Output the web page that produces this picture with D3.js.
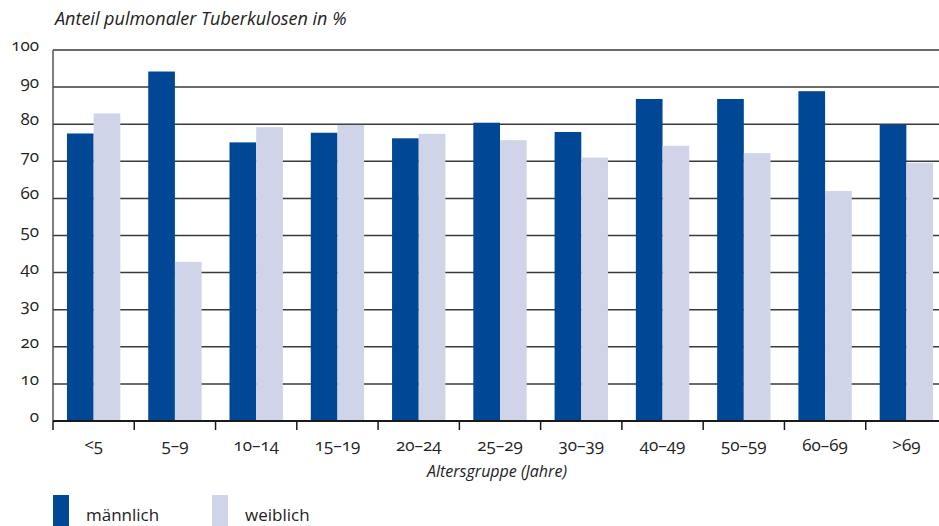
<!DOCTYPE html>
<html>
<head>
<meta charset="utf-8">
<script src="https://cdn.jsdelivr.net/npm/d3@7"></script>
<style>
    html, body { margin: 0; padding: 0; background: #fff; overflow: hidden; }
    svg { display: block; font-family: 'Open Sans', 'Noto Sans', sans-serif; font-variant-numeric: oldstyle-nums; }
    .title, .xTitle { font-style: italic; }
</style>
</head>
<body>
<div id="chart"></div>
<script>
'use strict';

// Age groups and share of pulmonary TB (%)
const ageGroups = ['<5', '5–9', '10–14', '15–19', '20–24', '25–29', '30–39', '40–49', '50–59', '60–69', '>69'];
const maleValues = [77.5, 94.2, 75.1, 77.7, 76.2, 80.4, 77.9, 86.8, 86.8, 88.9, 79.9];
const femaleValues = [82.9, 42.9, 79.2, 79.8, 77.4, 75.7, 71.0, 74.2, 72.2, 62.0, 69.6];
const yTicks = [0, 10, 20, 30, 40, 50, 60, 70, 80, 90, 100];
const seriesNames = ['männlich', 'weiblich'];

const colors = { 'männlich': '#004896', 'weiblich': '#cfd4e8' };

function main() {
    const width = 939;
    const height = 526;
    const plotLeft = 53;
    const plotRight = 947; // last group is cut by the picture edge
    const plotTop = 50;
    const plotBottom = 421;

    let svg = d3.select('#chart')
        .append('svg')
        .attr('width', width)
        .attr('height', height);

    let x0 = d3.scaleBand()
        .domain(ageGroups)
        .range([plotLeft, plotRight])
        .padding(0);

    let x1 = d3.scaleBand()
        .domain(seriesNames)
        .range([0, x0.bandwidth()])
        .paddingInner(0)
        .paddingOuter(0.523);

    let y = d3.scaleLinear()
        .domain([0, 100])
        .range([plotBottom, plotTop]);

    // Gridlines (behind bars)
    svg.append('g')
        .selectAll('line')
        .data(yTicks.filter(d => d > 0))
        .enter()
        .append('line')
        .attr('x1', plotLeft)
        .attr('x2', width)
        .attr('y1', d => y(d))
        .attr('y2', d => y(d))
        .attr('stroke', '#3a3a3a')
        .attr('stroke-width', 1.5);

    // Y axis labels
    svg.append('g')
        .selectAll('text')
        .data(yTicks)
        .enter()
        .append('text')
        .attr('x', 39)
        .attr('y', d => y(d) + 1)
        .attr('text-anchor', 'end')
        .attr('font-size', 17)
        .attr('fill', '#222')
        .text(d => d);

    // Bars
    let rows = ageGroups.map((g, i) => ({ group: g, values: [
        { key: 'männlich', value: maleValues[i] },
        { key: 'weiblich', value: femaleValues[i] }
    ] }));

    svg.append('g')
        .selectAll('g')
        .data(rows)
        .enter()
        .append('g')
        .attr('transform', d => `translate(${x0(d.group)},0)`)
        .selectAll('rect')
        .data(d => d.values)
        .enter()
        .append('rect')
        .attr('x', d => x1(d.key))
        .attr('width', x1.bandwidth())
        .attr('y', d => y(d.value))
        .attr('height', d => plotBottom - y(d.value))
        .attr('fill', d => colors[d.key]);

    // Y axis line
    svg.append('line')
        .attr('x1', plotLeft)
        .attr('x2', plotLeft)
        .attr('y1', plotTop)
        .attr('y2', plotBottom)
        .attr('stroke', '#555')
        .attr('stroke-width', 1.5);

    // X axis labels, centred under each group
    svg.append('g')
        .selectAll('text')
        .data(ageGroups)
        .enter()
        .append('text')
        .attr('x', d => x0(d) + x0.bandwidth() / 2)
        .attr('y', 451)
        .attr('text-anchor', 'middle')
        .attr('font-size', 17)
        .attr('fill', '#222')
        .text(d => d);

    svg.append('line')
        .attr('x1', plotLeft)
        .attr('x2', width)
        .attr('y1', plotBottom)
        .attr('y2', plotBottom)
        .attr('stroke', '#1a1a1a')
        .attr('stroke-width', 2);

    // Ticks at group boundaries
    svg.append('g')
        .selectAll('line')
        .data(ageGroups)
        .enter()
        .append('line')
        .attr('x1', d => x0(d))
        .attr('x2', d => x0(d))
        .attr('y1', plotBottom)
        .attr('y2', plotBottom + 9)
        .attr('stroke', '#1a1a1a')
        .attr('stroke-width', 1.5);

    // Titles
    svg.append('text')
        .classed('title', true)
        .attr('x', 55)
        .attr('y', 25)
        .attr('font-size', 18)
        .attr('fill', '#222')
        .text('Anteil pulmonaler Tuberkulosen in %');

    svg.append('text')
        .classed('xTitle', true)
        .attr('x', (plotLeft + plotRight) / 2 - 3)
        .attr('y', 477)
        .attr('text-anchor', 'middle')
        .attr('font-size', 16)
        .attr('fill', '#222')
        .text('Altersgruppe (Jahre)');

    // Legend
    let legend = svg.append('g')
        .selectAll('g')
        .data(seriesNames)
        .enter()
        .append('g')
        .attr('transform', (d, i) => `translate(${53 + i * 159},495)`);
    legend.append('rect')
        .attr('width', 16)
        .attr('height', 40)
        .attr('fill', d => colors[d]);
    legend.append('text')
        .attr('x', 33)
        .attr('y', 26)
        .attr('font-size', 17)
        .attr('fill', '#222')
        .text(d => d);
}
main();
</script>
</body>
</html>
